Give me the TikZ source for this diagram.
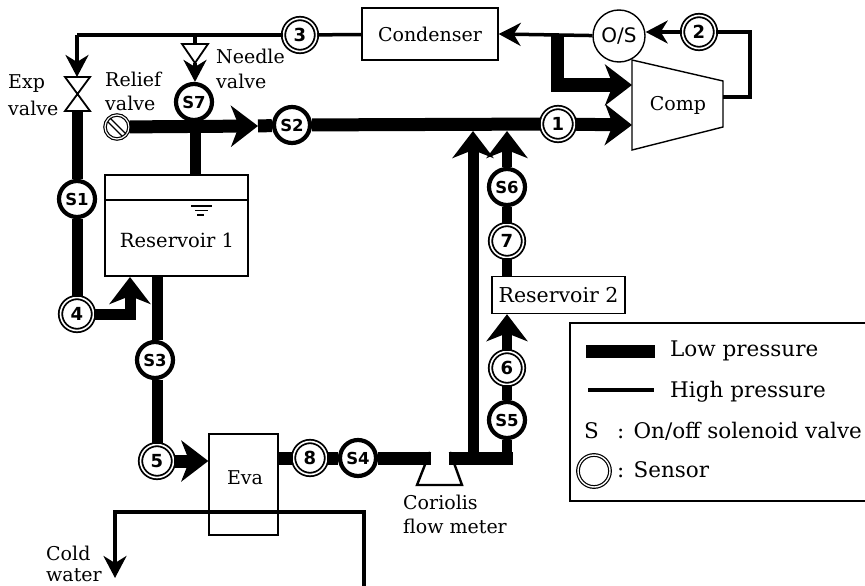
\documentclass[tikz,border=0pt]{standalone}
\usepackage{fontspec}
\setmainfont{DejaVu Serif}
\newfontfamily\tagfont{DejaVu Sans}
\usetikzlibrary{arrows.meta}
\tikzset{
  x=1pt,y=-1pt,
  thinline/.style={line width=3.5pt},
  thickline/.style={line width=13pt},
  midline/.style={line width=11pt},
  bigtip/.style={-{Stealth[length=27pt,width=41pt,inset=8pt]}},
  smalltip/.style={-{Stealth[length=22pt,width=23pt,inset=7pt]}},
  solenoid/.style={circle,draw,line width=4.2pt,fill=white,minimum size=36pt,inner sep=0pt,font=\tagfont\bfseries\fontsize{16.5}{16}\selectfont},
  sensor/.style={circle,draw,double,double distance=1.6pt,line width=1.8pt,fill=white,minimum size=33pt,inner sep=0pt,font=\tagfont\bfseries\fontsize{18}{18}\selectfont},
  box/.style={rectangle,draw,line width=1.4pt,fill=white,inner sep=0pt,font=\fontsize{19}{20}\selectfont},
  txt/.style={anchor=west,inner sep=0pt,font=\fontsize{19}{20}\selectfont},
  legtxt/.style={anchor=west,inner sep=0pt,font=\fontsize{21.5}{24}\selectfont},
}
\begin{document}
\begin{tikzpicture}
\useasboundingbox (0,0) rectangle (865,586);
% boxes
\node[box,minimum width=143pt,minimum height=101pt] (res1) at (176.5,225.5) {};
\node[inner sep=0pt,font=\fontsize{19.5}{20}\selectfont] (res1t) at (177,240) {Reservoir 1};
\draw[line width=1.4pt] (res1.west |- 0,200) coordinate (res1l) -- (res1.east |- 0,200) coordinate (res1r);
\draw[line width=1.3pt] (191,206) -- (212,206) (195,210.5) -- (208,210.5);
\draw[line width=1.6pt] (197,215) -- (204,215);
\node[box,minimum width=136pt,minimum height=52pt] (cond) at (430,34) {Condenser};
\node[box,minimum width=133pt,minimum height=37pt,font=\fontsize{20.5}{20}\selectfont] (res2) at (558.5,295) {Reservoir 2};
\node[box,minimum width=69pt,minimum height=101pt] (eva) at (243.5,484.5) {};
\node[inner sep=0pt,font=\fontsize{19}{20}\selectfont] (evat) at (245,478) {Eva};
\node[circle,draw,line width=1.4pt,fill=white,minimum size=52pt,inner sep=0pt,font=\tagfont\fontsize{20}{20}\selectfont] (os) at (619,36) {O/S};
% compressor
\draw[line width=1.4pt,fill=white] (632,60) coordinate (ca) -- (723,81) coordinate (cb) -- (723,127) coordinate (cc) -- (632,150) coordinate (cd) -- cycle;
\node[inner sep=0pt,font=\fontsize{19}{20}\selectfont] (comp) at (678,105) {Comp};
\coordinate (compin1) at (632,85);
\coordinate (compin2) at (632,125);
\coordinate (compout) at (723,97);
% flow meter
\draw[line width=2.4pt] (430,452) coordinate (fa) -- (417,485) coordinate (fb) -- (462,485) coordinate (fc) -- (450,452) coordinate (fd);
\coordinate (fl) at (431,458);
\coordinate (fr) at (449,458);
% solenoid valves
\node[solenoid] (s1) at (77,199) {S1};
\node[solenoid] (s2) at (292,125) {S2};
\node[solenoid] (s3) at (155,360) {S3};
\node[solenoid] (s4) at (358,458) {S4};
\node[solenoid] (s5) at (507,420) {S5};
\node[solenoid] (s6) at (507,187) {S6};
\node[solenoid] (s7) at (194,102) {S7};
% sensors
\node[sensor] (n1) at (558,124) {1};
\node[sensor] (n2) at (699,32) {2};
\node[sensor] (n3) at (300,35) {3};
\node[sensor] (n4) at (77,314) {4};
\node[sensor] (n5) at (157,461) {5};
\node[sensor] (n6) at (507,368) {6};
\node[sensor] (n7) at (507,241) {7};
\node[sensor] (n8) at (310,458) {8};
% exp valve
\coordinate (expv) at (77,94);
\coordinate (expt) at (77,77);
\coordinate (expb) at (77,111);
\draw[line width=1.8pt,fill=white] (65,77) -- (90,77) -- (65,111) -- (90,111) -- cycle;
% needle valve
\coordinate (nvt) at (195,44);
\coordinate (nvb) at (195,63);
\draw[line width=1.8pt,fill=white] (182,44) -- (208,44) -- (nvb) -- cycle;
% relief valve
\node[circle,draw,double,double distance=1.2pt,line width=1.2pt,fill=white,minimum size=24pt,inner sep=0pt] (relief) at (117,127) {};
\draw[line width=1.3pt] (110,118) -- (126,134) (108,122) -- (122,136);
% high-pressure lines
\coordinate (c3) at (77,35);
\coordinate (j3) at (195,35);
\draw[thinline,line join=round] (n3) -- (c3);
\draw[thinline,smalltip] (c3) -- (expt);
\draw[thinline] (j3) -- (nvt);
\draw[thinline,smalltip] (nvb) -- (s7.north -| nvb);
\draw[thinline] (n3) -- (cond);
\coordinate (osj) at (557,34);
\draw[thinline,smalltip] (os) -- (cond.east);
\draw[thinline,smalltip] (n2) -- (os.east |- n2);
\draw[thinline,line join=miter] (n2) -- (750,32) coordinate (cr1) -- (750,97) coordinate (cr2) -- (compout);
% low-pressure lines
\draw[midline] (expb) -- (s1);
\draw[midline] (s1) -- (n4);
\coordinate (res1in) at (130,277);
\draw[midline,bigtip,line join=miter] (n4) -| (res1in);
\coordinate (res1o) at (157,276);
\draw[midline] (res1o) -- (s3.north -| res1o);
\draw[midline] (s3.south -| res1o) -- (n5);
\draw[thickline,bigtip] (n5) -- (eva.west |- n5);
\coordinate (a2) at (258,126);
\coordinate (t7) at (195,126);
\draw[thickline,bigtip] (relief) -- (a2);
\draw[midline] (t7) -- (t7 |- res1.north);
\draw[thickline] (a2) -- (s2);
\draw[thickline] (s2) -- (n1);
\draw[thickline,bigtip] (n1) -- (compin2);
\draw[thickline,line join=miter,bigtip] (osj) -- (osj |- compin1) -- (compin1);
\draw[thickline] (eva.east |- n8) -- (n8);
\draw[thickline] (n8) -- (s4);
\draw[thickline] (s4) -- (fl);
\draw[thickline] (fr) -- (513,458) coordinate (fe);
\draw[line width=9.5pt] (507,462) -- (s5);
\draw[line width=9.5pt] (s5) -- (n6);
\draw[line width=9.5pt,bigtip] (n6) -- (res2.south -| n6);
\draw[line width=9.5pt] (res2.north -| n7) -- (n7);
\draw[line width=9.5pt] (n7) -- (s6);
\coordinate (m1) at (473,131);
\coordinate (m2) at (507,131);
\draw[line width=9.5pt,bigtip] (s6) -- (m2);
\draw[midline,bigtip] (473,458) -- (m1);
% cold water
\coordinate (wa) at (364,586);
\coordinate (wb) at (115,578);
\draw[thinline,line join=miter,smalltip] (wa) -- (364,512) -- (115,512) -- (wb);
% labels
\node[txt] (lexp) at (8,84) {Exp};
\node[txt] (lexp2) at (8,108) {valve};
\node[txt] (lrel) at (105,79) {Relief};
\node[txt] (lrel2) at (105,103) {valve};
\node[txt] (lnee) at (216,56) {Needle};
\node[txt] (lnee2) at (216,81) {valve};
\node[txt] (lcor) at (403,502) {Coriolis};
\node[txt] (lcor2) at (403,526) {flow meter};
\node[txt] (lcold) at (46,553) {Cold};
\node[txt] (lcold2) at (46,575) {water};
% legend
\coordinate (lg1) at (865,323);
\coordinate (lg2) at (865,501);
\draw[line width=1.6pt] (lg1) -- (570,323) -- (570,501) -- (lg2);
\coordinate (lowa) at (586,351);
\coordinate (lowb) at (655,351);
\coordinate (higha) at (588,390);
\coordinate (highb) at (654,390);
\draw[thickline] (lowa) -- (lowb);
\draw[thinline] (higha) -- (highb);
\node[legtxt] (tlow) at (670,351) {Low pressure};
\node[legtxt] (thigh) at (670,392) {High pressure};
\node[legtxt] (ts) at (584,431) {S};
\node[legtxt] (tsol) at (617,431) {: On/off solenoid valve};
\node[circle,draw,double,double distance=1.4pt,line width=1.2pt,minimum size=32pt,inner sep=0pt] (lsens) at (594,471) {};
\node[legtxt] (tsen) at (617,470) {: Sensor};
\end{tikzpicture}
\end{document}
